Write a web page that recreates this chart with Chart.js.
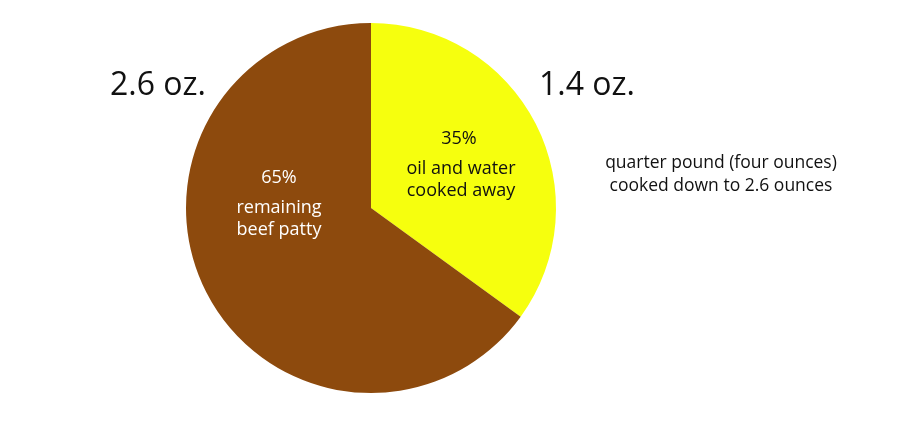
<!DOCTYPE html>
<html>
<head>
<meta charset="utf-8">
<script src="https://cdn.jsdelivr.net/npm/chart.js@4"></script>
<style>
  html, body { margin: 0; padding: 0; background: #fff; }
  #wrap { width: 900px; height: 421px; }
</style>
</head>
<body>
<div id="wrap"><canvas id="myChart" width="900" height="421"></canvas></div>
<script>
// Data for the pie
let categories = ["oil and water cooked away", "remaining beef patty"];
let percents = [35, 65];
let ounces = ["1.4 oz.", "2.6 oz."];
let sliceLines = [["35%", "oil and water", "cooked away"], ["65%", "remaining", "beef patty"]];
let note = ["quarter pound (four ounces)", "cooked down to 2.6 ounces"];
let colors = ["#f6ff0e", "#8d4a0d"];

let fontFamily = "'Open Sans', 'Noto Sans', sans-serif";

// draws the labels on and around the pie
let labelPlugin = {
  id: "labels",
  afterDraw(chart) {
    let c = chart.ctx;
    let arc = chart.getDatasetMeta(0).data[0];
    let cx = arc.x, cy = arc.y;
    c.save();
    c.textAlign = "center";
    c.textBaseline = "middle";

    // big weights
    c.fillStyle = "#111";
    c.font = "32px " + fontFamily;
    c.fillText(ounces[0], cx + 216, cy - 122);
    c.fillText(ounces[1], cx - 213, cy - 122);

    // slice texts
    c.font = "18px " + fontFamily;
    c.fillStyle = "#111";
    c.fillText(sliceLines[0][0], cx + 88, cy - 69);
    c.fillText(sliceLines[0][1], cx + 90, cy - 39);
    c.fillText(sliceLines[0][2], cx + 90, cy - 17);
    c.fillStyle = "#fff";
    c.fillText(sliceLines[1][0], cx - 92, cy - 30);
    c.fillText(sliceLines[1][1], cx - 92, cy);
    c.fillText(sliceLines[1][2], cx - 92, cy + 22);

    // note on the right
    c.fillStyle = "#111";
    c.font = "17.5px " + fontFamily;
    c.fillText(note[0], cx + 350, cy - 45);
    c.fillText(note[1], cx + 350, cy - 22);
    c.restore();
  }
};

let ctx = document.getElementById("myChart").getContext("2d");

let myChart = new Chart(ctx, {
  type: "pie",
  data: {
    labels: categories,
    datasets: [{
      data: percents,
      backgroundColor: colors,
      borderWidth: 0
    }]
  },
  options: {
    responsive: false,
    animation: false,
    layout: { padding: { left: 186, right: 344, top: 23, bottom: 28 } },
    plugins: {
      legend: { display: false },
      tooltip: { enabled: false }
    }
  },
  plugins: [labelPlugin]
});
</script>
</body>
</html>
